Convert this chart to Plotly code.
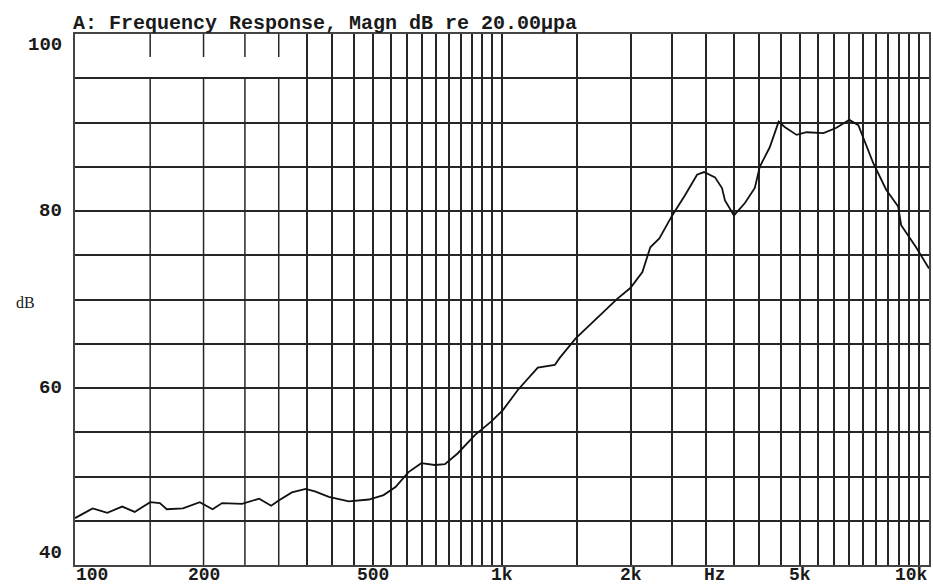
import numpy as np
import plotly.graph_objects as go

# ---- data ----
freq_hz = [100, 110, 119, 129, 138, 150, 158, 164, 179, 196, 210, 221, 246, 270, 288, 300,
           322, 347, 366, 393, 438, 488, 528, 563, 604, 647, 696, 735, 787, 865, 943,
           1005, 1090, 1213, 1329, 1365, 1488, 1674, 1864, 1998, 2132, 2225, 2336, 2504,
           2685, 2863, 2973, 3154, 3275, 3328, 3493, 3706, 3909, 4015, 4237, 4446, 4592,
           4897, 5168, 5661, 6071, 6508, 6831, 7405, 7938, 8469, 8606, 9326, 10000]
magn_db = [45.3, 46.4, 45.9, 46.6, 46.0, 47.1, 47.0, 46.3, 46.4, 47.1, 46.3, 47.0, 46.9, 47.5,
           46.7, 47.3, 48.2, 48.6, 48.3, 47.7, 47.2, 47.4, 47.9, 48.8, 50.5, 51.5, 51.3, 51.4,
           52.6, 54.7, 56.2, 57.5, 59.8, 62.3, 62.6, 63.4, 65.6, 68.0, 70.1, 71.3, 73.1, 75.9,
           76.9, 79.5, 81.8, 84.1, 84.4, 83.8, 82.6, 81.2, 79.5, 80.9, 82.6, 85.0, 87.2, 90.1,
           89.5, 88.6, 88.9, 88.8, 89.4, 90.3, 89.7, 85.4, 82.4, 80.5, 78.4, 75.9, 73.5]

x_label_vals = [100, 200, 500, 1000, 2000, 3162, 5000, 10000]
x_label_text = ["100", "200", "500", "1k", "2k", "Hz", "5k", "10k"]
y_label_vals = [100, 80, 60, 40]
y_label_text = ["100", "80", "60", "40"]
title_text = "A: Frequency Response, Magn dB re 20.00\u00b5pa"
y_title = "dB"

# grid positions
x_grid = list(range(100, 1000, 50)) + list(range(1000, 10001, 500))
short_grid = [150, 200, 250, 300]   # these have a gap in the top band
x_grid_full = [v for v in x_grid if v not in short_grid]
y_grid = list(range(40, 101, 5))

GRID = "#262626"
FONT = "Liberation Mono"

fig = go.Figure()

# partial grid lines (150..300 Hz): tick at top + line below the first band
gx, gy = [], []
for v in short_grid:
    gx += [v, v, None, v, v, None]
    gy += [100, 97.4, None, 95, 40, None]
fig.add_trace(go.Scatter(x=gx, y=gy, mode="lines", line=dict(color=GRID, width=1.5),
                         hoverinfo="skip", showlegend=False))

fig.add_trace(go.Scatter(x=freq_hz, y=magn_db, mode="lines",
                         line=dict(color="#111111", width=1.8),
                         showlegend=False))

fig.update_xaxes(type="log", range=[2, 4], tickvals=x_grid_full, showticklabels=False,
                 ticks="", showgrid=True, gridcolor=GRID, gridwidth=1.5,
                 showline=True, linecolor="#444444", linewidth=2, mirror=True,
                 zeroline=False)
fig.update_yaxes(range=[40, 100], tickvals=y_grid, showticklabels=False, ticks="",
                 showgrid=True, gridcolor=GRID, gridwidth=1.5,
                 showline=True, linecolor="#444444", linewidth=2, mirror=True,
                 zeroline=False)

annotations = []
n = len(x_label_vals)
for i, (v, t) in enumerate(zip(x_label_vals, x_label_text)):
    anchor = "left" if i == 0 else ("right" if i == n - 1 else "center")
    annotations.append(dict(x=np.log10(v), xref="x", y=0, yref="paper", text=t,
                            showarrow=False, xanchor=anchor, yanchor="middle", yshift=-10,
                            borderpad=0,
                            font=dict(family=FONT, size=18, color="#1a1a1a", weight="bold")))
for v, t in zip(y_label_vals, y_label_text):
    shift = -11 if v == 100 else (12 if v == 40 else 0)
    annotations.append(dict(x=0, xref="paper", y=v, yref="y", text=t, showarrow=False,
                            xanchor="right", yanchor="middle", xshift=-11, yshift=shift,
                            font=dict(family=FONT, size=19, color="#1a1a1a", weight="bold")))
annotations.append(dict(x=0, xref="paper", y=69.7, yref="y", text=y_title, showarrow=False,
                        xanchor="center", yanchor="middle", xshift=-50,
                        font=dict(family="Liberation Serif", size=16, color="#1a1a1a")))
annotations.append(dict(x=0, xref="paper", y=1, yref="paper", text=title_text,
                        showarrow=False, xanchor="left", yanchor="bottom", xshift=-4, yshift=-3,
                        font=dict(family=FONT, size=20, color="#1a1a1a", weight="bold")))

fig.update_layout(width=933, height=587, margin=dict(l=75, r=2, t=34, b=22),
                  paper_bgcolor="white", plot_bgcolor="white",
                  annotations=annotations, showlegend=False)

fig.write_html("out.html", config={"displayModeBar": False},
               post_script="document.body.style.margin='0';")
